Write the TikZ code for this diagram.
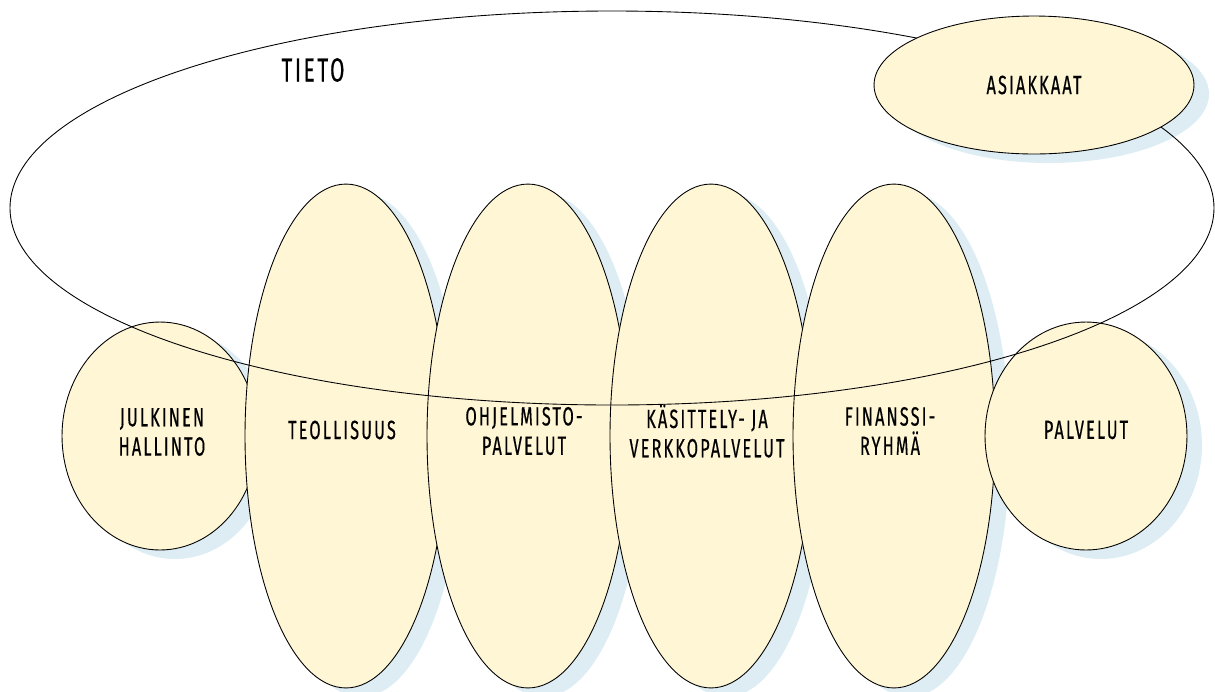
\documentclass[tikz,border=0pt]{standalone}
\usepackage{fontspec}
\setmainfont{Fira Sans}[FakeStretch=0.62,LetterSpace=8,FakeBold=0.4]
\usetikzlibrary{shapes.geometric}

\definecolor{cream}{RGB}{255,246,214}
\definecolor{shadowblue}{RGB}{221,237,243}

\tikzset{
	unit/.style={ellipse, draw, fill=cream, line width=0.5pt, inner sep=0pt},
	unitshadow/.style={fill=shadowblue},
	unittext/.style={align=center, inner sep=0pt, font=\fontsize{15}{16.7}\selectfont}
}

\begin{document}
\begin{tikzpicture}[x=0.02cm, y=-0.02cm]
	\useasboundingbox (0,0) rectangle (1215,691);

	% Shadows
	\foreach \cx/\cy/\rx/\ry in {160/436/98/114, 346/436/101/252, 528/436/101/252, 711/436/101/252, 894/436/101/252, 1086/436/101/114, 1034/85/160/69}
	\fill[unitshadow] (\cx+15,\cy+9) ellipse ({\rx} and {\ry});

	% Units
	\node[unit, minimum width=3.92cm, minimum height=4.56cm] (julk) at (160,436) {};
	\node[unit, minimum width=4.04cm, minimum height=10.08cm] (teol) at (346,436) {};
	\node[unit, minimum width=4.04cm, minimum height=10.08cm] (ohj) at (528,436) {};
	\node[unit, minimum width=4.04cm, minimum height=10.08cm] (kas) at (711,436) {};
	\node[unit, minimum width=4.04cm, minimum height=10.08cm] (fin) at (894,436) {};
	\node[unit, minimum width=4.04cm, minimum height=4.56cm] (palv) at (1086,436) {};

	% Tieto
	\coordinate (tieto) at (612,208);
	\draw[line width=0.5pt] (tieto) ellipse (602 and 197);
	\node[unittext, font=\fontsize{19}{19}\selectfont] (tietotext) at (313,70) {TIETO};

	% Asiakkaat
	\node[unit, minimum width=6.4cm, minimum height=2.76cm] (asiak) at (1034,85) {};

	% Labels
	\node[unittext] (asiaktext) at (1034,85) {ASIAKKAAT};
	\node[unittext] (julktext) at (162,432) {JULKINEN\\HALLINTO};
	\node[unittext] (teoltext) at (342,430) {TEOLLISUUS};
	\node[unittext] (ohjtext) at (524,431) {OHJELMISTO-\\PALVELUT};
	\node[unittext] (kastext) at (707,431) {KÄSITTELY- JA\\VERKKOPALVELUT};
	\node[unittext] (fintext) at (890,431) {FINANSSI-\\RYHMÄ};
	\node[unittext] (palvtext) at (1086,430) {PALVELUT};
\end{tikzpicture}
\end{document}
